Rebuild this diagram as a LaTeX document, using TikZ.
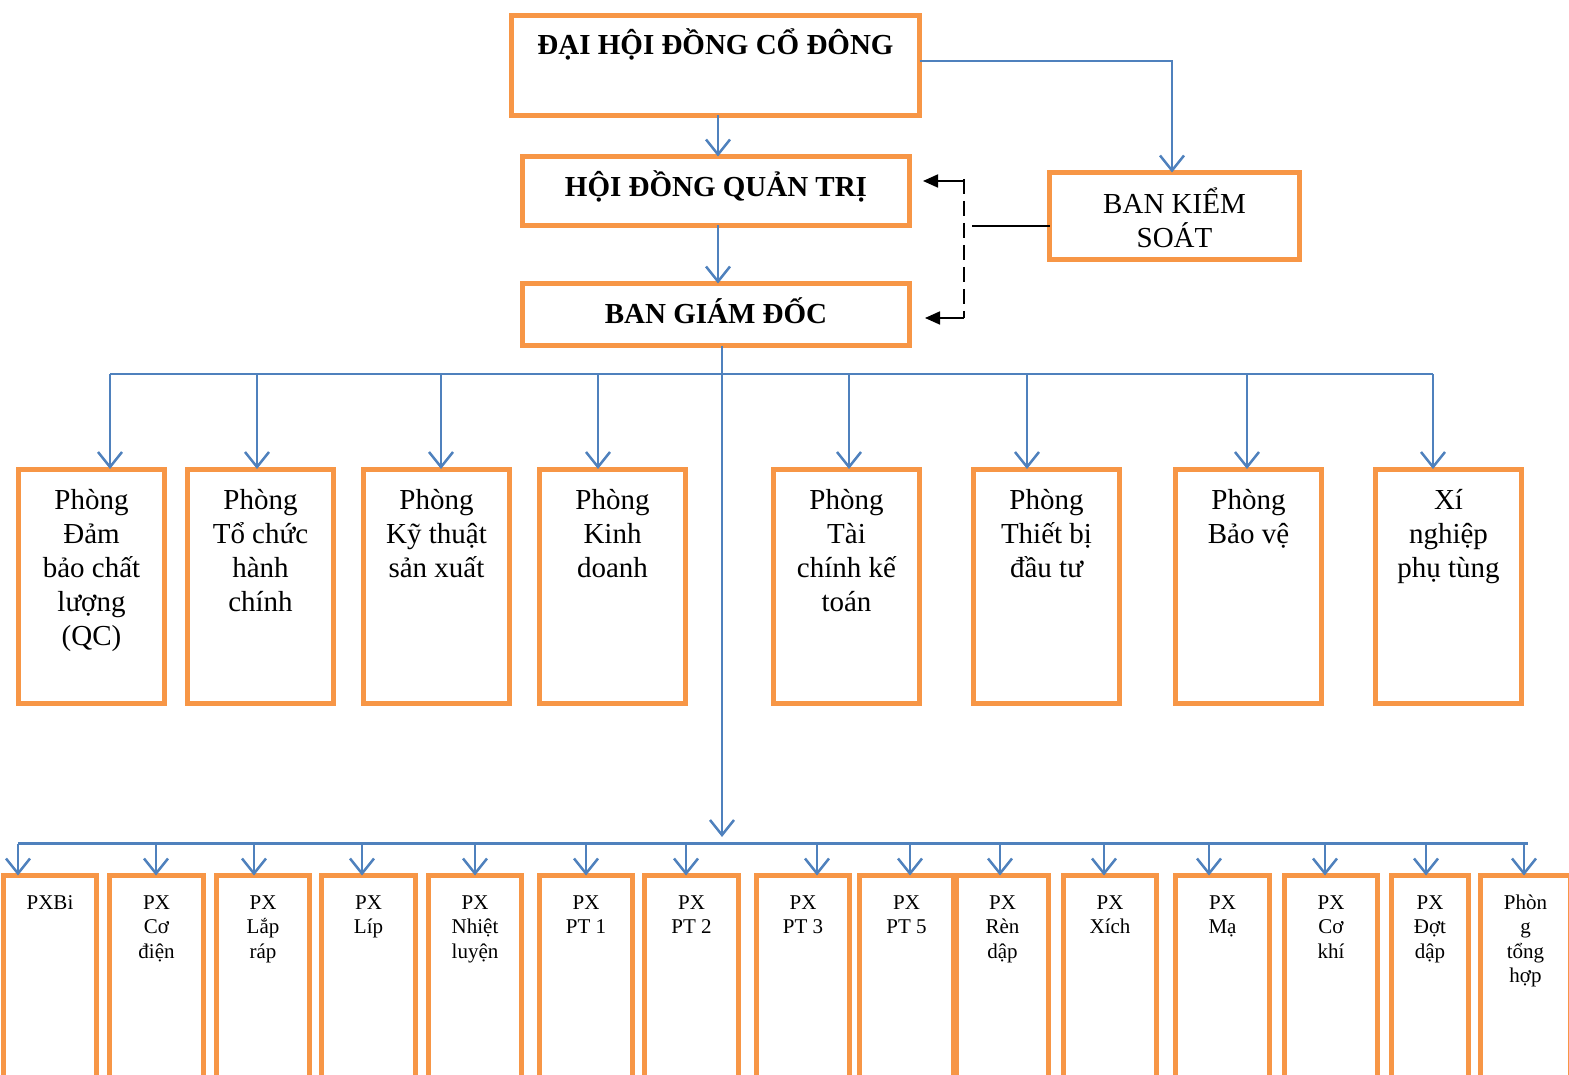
\documentclass[tikz,border=0pt]{standalone}
\usepackage{fontspec}
\setmainfont{Liberation Serif}
\usetikzlibrary{arrows.meta}
\definecolor{boxorange}{HTML}{F79646}
\definecolor{lineblue}{HTML}{4F81BD}
\newcommand{\bxt}[4]{\parbox[t][#2pt][t]{#1pt}{\centering\rule{0pt}{#3pt}#4}}
\begin{document}
\begin{tikzpicture}[x=1pt,y=-1pt,
  obox/.style={draw=boxorange, line width=5pt, inner sep=0pt, outer sep=0pt, anchor=north west},
  barr/.style={draw=lineblue, line width=2.5pt, -{Straight Barb[length=15pt,width=24pt]}},
  bline/.style={draw=lineblue, line width=2.3pt},
  karr/.style={draw=black, line width=1.8pt, -{Triangle[length=15pt,width=13pt]}},
  kline/.style={draw=black, line width=1.6pt},
  kdash/.style={draw=black, line width=2.2pt, dash pattern=on 15pt off 7pt},
  bigf/.style={font=\fontsize{29}{34}\selectfont},
  bigb/.style={font=\fontsize{29}{34}\selectfont\bfseries},
  smallf/.style={font=\fontsize{21}{24.5}\selectfont}]
\useasboundingbox (0,0) rectangle (1569,1075);

% top boxes
\node[obox,bigb] (dh) at (511.5,15.5) {\bxt{408}{100}{39.5}{ĐẠI HỘI ĐỒNG CỔ ĐÔNG}};
\node[obox,bigb] (hd) at (522.5,156.5) {\bxt{387}{69}{40}{HỘI ĐỒNG QUẢN TRỊ}};
\node[obox,bigb] (gd) at (522.5,283.5) {\bxt{387}{62}{40}{BAN GIÁM ĐỐC}};
\node[obox,bigf] (ks) at (1049.5,172.5) {\bxt{250}{87}{41}{BAN KIỂM\\SOÁT}};

% middle row
\node[obox,bigf] (p1) at (18.5,469) {\bxt{146}{234.5}{40.5}{Phòng\\Đảm\\bảo chất\\lượng\\(QC)}};
\node[obox,bigf] (p2) at (187.5,469) {\bxt{146}{234.5}{40.5}{Phòng\\Tổ chức\\hành\\chính}};
\node[obox,bigf] (p3) at (363.5,469) {\bxt{146}{234.5}{40.5}{Phòng\\Kỹ thuật\\sản xuất}};
\node[obox,bigf] (p4) at (539.5,469) {\bxt{146}{234.5}{40.5}{Phòng\\Kinh\\doanh}};
\node[obox,bigf] (p5) at (773.5,469) {\bxt{146}{234.5}{40.5}{Phòng\\Tài\\chính kế\\toán}};
\node[obox,bigf] (p6) at (973.5,469) {\bxt{146}{234.5}{40.5}{Phòng\\Thiết bị\\đầu tư}};
\node[obox,bigf] (p7) at (1175.5,469) {\bxt{146}{234.5}{40.5}{Phòng\\Bảo vệ}};
\node[obox,bigf] (p8) at (1375.5,469) {\bxt{146}{234.5}{40.5}{Xí\\nghiệp\\phụ tùng}};

% bottom row
\node[obox,smallf] (q1) at (3.5,875.5) {\bxt{93}{260}{33.5}{PXBi}};
\node[obox,smallf] (q2) at (109.5,875.5) {\bxt{94}{260}{33.5}{PX\\Cơ\\điện}};
\node[obox,smallf] (q3) at (216.5,875.5) {\bxt{93}{260}{33.5}{PX\\Lắp\\ráp}};
\node[obox,smallf] (q4) at (321.5,875.5) {\bxt{94}{260}{33.5}{PX\\Líp}};
\node[obox,smallf] (q5) at (428.5,875.5) {\bxt{93}{260}{33.5}{PX\\Nhiệt\\luyện}};
\node[obox,smallf] (q6) at (539.5,875.5) {\bxt{93}{260}{33.5}{PX\\PT 1}};
\node[obox,smallf] (q7) at (644.5,875.5) {\bxt{94}{260}{33.5}{PX\\PT 2}};
\node[obox,smallf] (q8) at (756.5,875.5) {\bxt{93}{260}{33.5}{PX\\PT 3}};
\node[obox,smallf] (q9) at (859.5,875.5) {\bxt{94}{260}{33.5}{PX\\PT 5}};
\node[obox,smallf] (q10) at (956.5,875.5) {\bxt{92}{260}{33.5}{PX\\Rèn\\dập}};
\node[obox,smallf] (q11) at (1063.5,875.5) {\bxt{93}{260}{33.5}{PX\\Xích}};
\node[obox,smallf] (q12) at (1175.5,875.5) {\bxt{94}{260}{33.5}{PX\\Mạ}};
\node[obox,smallf] (q13) at (1284.5,875.5) {\bxt{93}{260}{33.5}{PX\\Cơ\\khí}};
\node[obox,smallf] (q14) at (1391.5,875.5) {\bxt{77}{260}{33.5}{PX\\Đợt\\dập}};
\node[obox,smallf] (q15) at (1480.5,875.5) {\bxt{90}{260}{33.5}{Phòn\\g\\tổng\\hợp}};

% top connectors
\coordinate (c1) at (718,0);
\draw[barr] (dh.south -| c1) -- (hd.north -| c1);
\draw[barr] (hd.south -| c1) -- (gd.north -| c1);
\coordinate (kx) at (1172,61);
\draw[barr] (dh.east |- kx) -- (kx) -- (ks.north -| kx);

% control (dashed) connectors
\coordinate (d1) at (964,179);
\coordinate (d2) at (964,318);
\coordinate (a1) at (923,181);
\coordinate (a2) at (925,318);
\coordinate (k1) at (972,226);
\draw[kdash] (d1) -- (d2);
\draw[karr] (d1 |- a1) -- (a1);
\draw[karr] (d2) -- (a2);
\draw[kline] (k1) -- (k1 -| ks.west);

% middle bus
\coordinate (mL) at (110,374);
\coordinate (mR) at (1433,374);
\draw[bline] (mL) -- (mR);
\foreach \x/\n in {110/p1,257/p2,441/p3,598/p4,849/p5,1027/p6,1247/p7,1433/p8}{
  \coordinate (m\n) at (\x,374);
  \draw[barr] (m\n) -- (m\n |- \n.north);
}

% trunk
\coordinate (tr) at (722,837);
\draw[barr] (gd.south -| tr) -- (tr);

% bottom bus
\coordinate (bL) at (18,843.5);
\coordinate (bR) at (1528,843.5);
\draw[bline] (bL) -- (bR);
\foreach \x/\n in {18/q1,156/q2,254/q3,362/q4,475/q5,586/q6,686/q7,817/q8,910/q9,1000/q10,1104/q11,1209/q12,1325/q13,1426/q14,1524/q15}{
  \coordinate (b\n) at (\x,843.5);
  \draw[barr] (b\n) -- (b\n |- \n.north);
}
\end{tikzpicture}
\end{document}
